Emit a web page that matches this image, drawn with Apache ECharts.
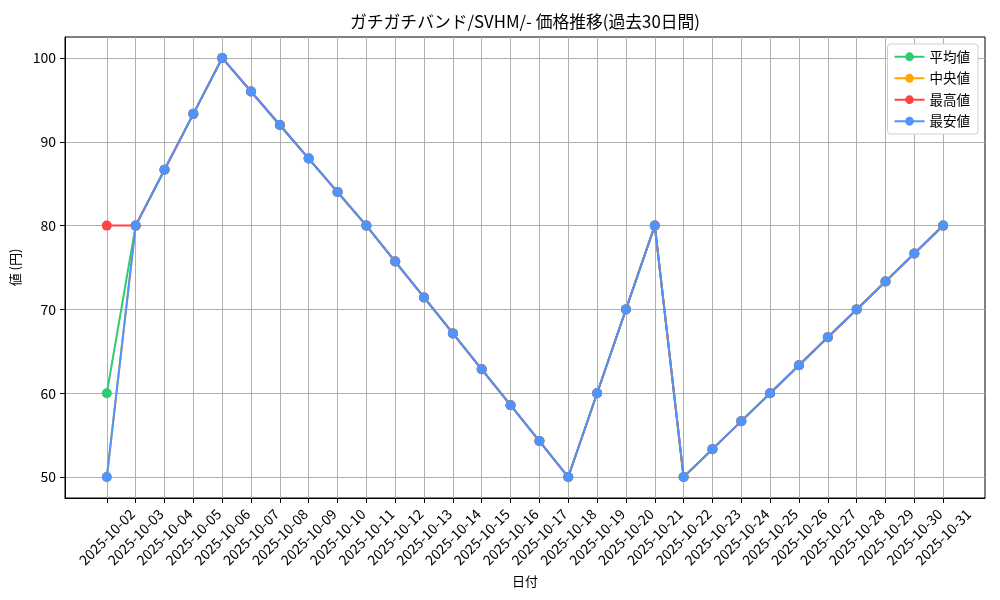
<!DOCTYPE html>
<html>
<head>
<meta charset="utf-8">
<script src="https://cdn.jsdelivr.net/npm/echarts@6/dist/echarts.min.js"></script>
<style>html,body{margin:0;padding:0;background:#fff}#c{width:1000px;height:600px}</style>
</head>
<body>
<div id="c"></div>
<script>
const dates = ["2025-10-02","2025-10-03","2025-10-04","2025-10-05","2025-10-06","2025-10-07","2025-10-08","2025-10-09","2025-10-10","2025-10-11","2025-10-12","2025-10-13","2025-10-14","2025-10-15","2025-10-16","2025-10-17","2025-10-18","2025-10-19","2025-10-20","2025-10-21","2025-10-22","2025-10-23","2025-10-24","2025-10-25","2025-10-26","2025-10-27","2025-10-28","2025-10-29","2025-10-30","2025-10-31"];
const avgValues = [60,80,86.67,93.33,100,96,92,88,84,80,75.71,71.43,67.14,62.86,58.57,54.29,50,60,70,80,50,53.33,56.67,60,63.33,66.67,70,73.33,76.67,80];
const medianValues = [50,80,86.67,93.33,100,96,92,88,84,80,75.71,71.43,67.14,62.86,58.57,54.29,50,60,70,80,50,53.33,56.67,60,63.33,66.67,70,73.33,76.67,80];
const maxValues = [80,80,86.67,93.33,100,96,92,88,84,80,75.71,71.43,67.14,62.86,58.57,54.29,50,60,70,80,50,53.33,56.67,60,63.33,66.67,70,73.33,76.67,80];
const minValues = [50,80,86.67,93.33,100,96,92,88,84,80,75.71,71.43,67.14,62.86,58.57,54.29,50,60,70,80,50,53.33,56.67,60,63.33,66.67,70,73.33,76.67,80];
const yTicks = [50,60,70,80,90,100];
const seriesNames = ["平均値","中央値","最高値","最安値"];
const seriesColors = ["#2ecc71","#ffa500","#ff4444","#4d94ff"];

const font = "'Noto Sans CJK JP', sans-serif";
const xIdx = dates.map((d,i)=>i);
const mk = (vals)=>vals.map((v,i)=>[i,v]);
const allVals = [avgValues, medianValues, maxValues, minValues];

const chart = echarts.init(document.getElementById('c'), null, {renderer:'canvas'});
chart.setOption({
  animation:false,
  backgroundColor:'#fff',
  textStyle:{fontFamily:font},
  title:{
    text:'ガチガチバンド/SVHM/- 価格推移(過去30日間)',
    left:350, top:13, padding:0,
    textStyle:{fontFamily:font,fontSize:16.8,fontWeight:'normal',color:'#000'}
  },
  legend:{
    orient:'vertical', right:22, top:44,
    data:seriesNames,
    itemWidth:30, itemHeight:11, itemGap:8,
    padding:[6,8,6,6],
    backgroundColor:'#fff', borderColor:'#d0d0d0', borderWidth:1, borderRadius:3,
    textStyle:{fontFamily:font,fontSize:13.5,color:'#000'}
  },
  grid:{left:65, right:15, top:37, bottom:102, show:true, borderColor:'#000', borderWidth:1, backgroundColor:'transparent'},
  xAxis:{
    type:'value', min:-1.45, max:30.45,
    name:'日付', nameLocation:'middle', nameGap:74,
    nameTextStyle:{fontFamily:font,fontSize:13,color:'#000'},
    axisLine:{show:true,onZero:false,lineStyle:{color:'#000',width:1}},
    axisTick:{show:true,inside:false,length:5,lineStyle:{color:'#000'},customValues:xIdx},
    axisLabel:{show:true,rotate:45,margin:39,align:'center',verticalAlign:'middle',fontFamily:font,fontSize:14,color:'#000',customValues:xIdx,formatter:(v)=>dates[Math.round(v)]||''},
    splitLine:{show:true,lineStyle:{color:'#b0b0b0',width:1}}
  },
  yAxis:{
    type:'value', min:47.5, max:102.5,
    name:'値 (円)', nameLocation:'middle', nameGap:39,
    nameTextStyle:{fontFamily:font,fontSize:13,color:'#000'},
    axisLine:{show:true,onZero:false,lineStyle:{color:'#000',width:1}},
    axisTick:{show:true,inside:false,length:5,lineStyle:{color:'#000'},customValues:yTicks},
    axisLabel:{show:true,margin:9,fontFamily:font,fontSize:14,color:'#000',customValues:yTicks},
    splitLine:{show:true,lineStyle:{color:'#b0b0b0',width:1}}
  },
  series: seriesNames.map((n,k)=>({
    name:n, type:'line', data:mk(allVals[k]),
    symbol:'circle', symbolSize:10, showSymbol:true,
    lineStyle:{color:seriesColors[k],width:2},
    itemStyle:{color:seriesColors[k]},
    z:2+k
  }))
});
</script>
</body>
</html>
